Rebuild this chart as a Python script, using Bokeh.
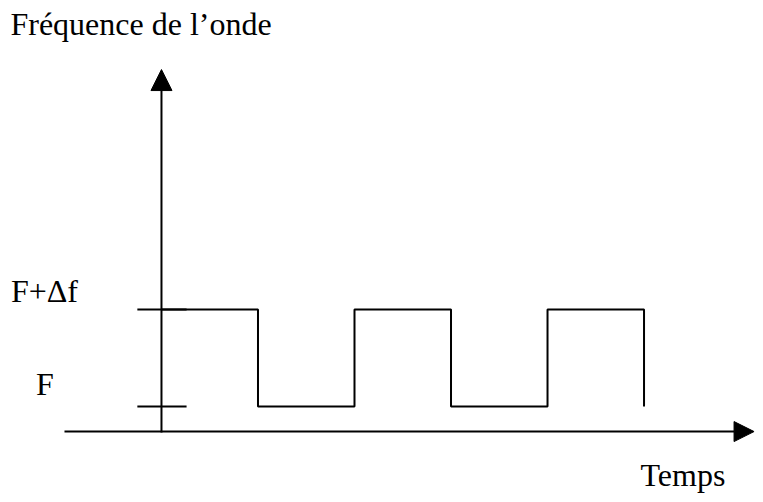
from bokeh.plotting import figure
from bokeh.models import Range1d, Arrow, NormalHead, Label
from bokeh.embed import file_html
from bokeh.resources import INLINE

# ---- data ----
transition_times = [0, 1, 2, 3, 4, 5]          # half-periods of the wave
level_names = ["F+Δf", "F", "F+Δf", "F", "F+Δf", "F"]
level_values = {"F": 1.0, "F+Δf": 2.0}
wave_levels = [level_values[n] for n in level_names]
tick_labels = ["F+Δf", "F"]
tick_values = [level_values[n] for n in tick_labels]
title_text = "Fréquence de l’onde"
xlabel_text = "Temps"

# ---- layout constants ----
AXIS_Y = 0.742
AXIS_X = 0.0
FONT = "Liberation Serif"
FS = "32px"

p = figure(width=755, height=494,
           x_range=Range1d(-1.668, 6.155), y_range=Range1d(0.093, 5.186),
           toolbar_location=None, output_backend="svg",
           x_axis_type=None, y_axis_type=None,
           min_border=0, min_border_left=0, min_border_right=0,
           min_border_top=0, min_border_bottom=0)
p.outline_line_color = None
p.background_fill_color = "white"
p.border_fill_color = "white"
p.grid.visible = False

# square wave
p.step(transition_times, wave_levels, mode="after", line_width=2, color="black")

# tick marks on the vertical axis
p.segment(x0=[AXIS_X - 0.25] * len(tick_values), x1=[AXIS_X + 0.26] * len(tick_values),
          y0=tick_values, y1=tick_values, line_width=2, color="black")

# axes with arrows
p.add_layout(Arrow(end=NormalHead(size=21, fill_color="black", line_color="black", line_width=1),
                   x_start=AXIS_X, y_start=AXIS_Y - 0.01, x_end=AXIS_X, y_end=4.474,
                   line_width=2, line_color="black"))
p.add_layout(Arrow(end=NormalHead(size=20, fill_color="black", line_color="black", line_width=1),
                   x_start=-1.005, y_start=AXIS_Y, x_end=6.14, y_end=AXIS_Y,
                   line_width=2, line_color="black"))

# texts
label_pos = {"F+Δf": (-1.56, 2.196), "F": (-1.30, 1.237)}
for name in tick_labels:
    lx, ly = label_pos[name]
    p.add_layout(Label(x=lx, y=ly, text=name, text_font=FONT, text_font_size=FS,
                       text_baseline="alphabetic", text_color="black"))
p.add_layout(Label(x=-1.565, y=4.948, text=title_text, text_font=FONT, text_font_size=FS,
                   text_baseline="alphabetic", text_color="black"))
p.add_layout(Label(x=4.964, y=0.289, text=xlabel_text, text_font=FONT, text_font_size=FS,
                   text_baseline="alphabetic", text_color="black"))

open("out.html", "w").write(file_html(p, INLINE))
